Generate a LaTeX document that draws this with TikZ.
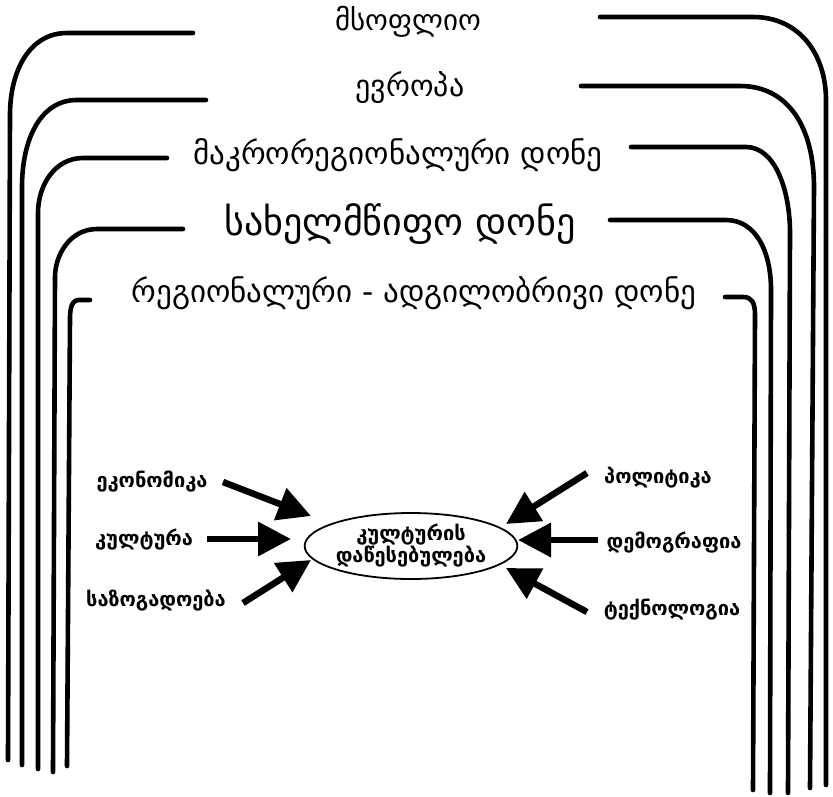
\documentclass[tikz,border=0pt]{standalone}
\usepackage{fontspec}
\setmainfont{DejaVu Sans}
\usetikzlibrary{arrows.meta,shapes.geometric}
\begin{document}
\begin{tikzpicture}[x=1pt,y=-1pt,
  arch/.style={line width=4.6pt, line cap=round, line join=round},
  lvl/.style={font=\fontsize{31}{34}\selectfont, inner sep=0pt, anchor=center},
  big/.style={font=\fontsize{38}{42}\selectfont, inner sep=0pt, anchor=center},
  fac/.style={font=\bfseries\fontsize{20}{23}\selectfont, inner sep=0pt, anchor=center},
  push/.style={line width=6.5pt, -{Triangle[length=33pt,width=33pt]}}]
\useasboundingbox[fill=white] (0,0) rectangle (833,796);

% ---- level titles
\node[lvl, font=\fontsize{29}{32}\selectfont] (world) at (408,22) {მსოფლიო};
\node[lvl, font=\fontsize{30}{33}\selectfont] (europe) at (410,88) {ევროპა};
\node[lvl] (macro) at (398,155) {მაკრორეგიონალური დონე};
\node[big] (state) at (400,224) {სახელმწიფო დონე};
\node[lvl] (local) at (414,293) {რეგიონალური - ადგილობრივი დონე};

% ---- left arches
\draw[arch] (193,33) -- (67,33) .. controls (30,33) and (10,70) .. (10,115) -- (8,760);
\draw[arch] (206,100) -- (77,100) .. controls (40,100) and (22,140) .. (22,187) -- (22,765);
\draw[arch] (167,158) -- (83,158) .. controls (55,158) and (38,185) .. (38,213) -- (38,769);
\draw[arch] (183,229) -- (97,229) .. controls (70,229) and (55,255) .. (55,277) -- (53,772);
\draw[arch] (90,300) -- (79,300) .. controls (72,300) and (70,308) .. (70,318) -- (67,766);

% ---- right arches
\draw[arch] (600,17) -- (753,17) .. controls (800,17) and (826,55) .. (826,100) -- (826,785);
\draw[arch] (581,86) -- (740,86) .. controls (790,86) and (814,130) .. (814,187) -- (810,788);
\draw[arch] (631,147) -- (746,147) .. controls (775,147) and (790,190) .. (790,233) -- (788,793);
\draw[arch] (610,220) -- (726,220) .. controls (755,220) and (771,250) .. (771,290) -- (770,793);
\draw[arch] (725,297) -- (743,297) .. controls (752,297) and (755,303) .. (755,315) -- (753,790);

% ---- centre
\node[draw, ellipse, line width=1.8pt, minimum width=202pt, minimum height=66pt,
      inner sep=0pt, align=center, font=\bfseries\fontsize{20}{22}\selectfont] (core) at (411,546)
      {კულტურის\\დაწესებულება};

% ---- factors
\node[fac] (eco) at (152,482) {ეკონომიკა};
\node[fac] (cult) at (144,540) {კულტურა};
\node[fac] (soc) at (156,601) {საზოგადოება};
\node[fac] (pol) at (658,478) {პოლიტიკა};
\node[fac] (dem) at (674,543) {დემოგრაფია};
\node[fac] (tech) at (672,610) {ტექნოლოგია};

\coordinate (ecoT) at (223,482);  \coordinate (ecoH) at (311,516);
\coordinate (cultT) at (207,539); \coordinate (cultH) at (291,539);
\coordinate (socT) at (243,603);  \coordinate (socH) at (311,560);
\coordinate (polT) at (587,473);  \coordinate (polH) at (506,524);
\coordinate (demT) at (598,540);  \coordinate (demH) at (518,540);
\coordinate (techT) at (587,612); \coordinate (techH) at (506,568);

\draw[push] (ecoT) -- (ecoH);
\draw[push] (cultT) -- (cultH);
\draw[push] (socT) -- (socH);
\draw[push] (polT) -- (polH);
\draw[push] (demT) -- (demH);
\draw[push] (techT) -- (techH);
\end{tikzpicture}
\end{document}
